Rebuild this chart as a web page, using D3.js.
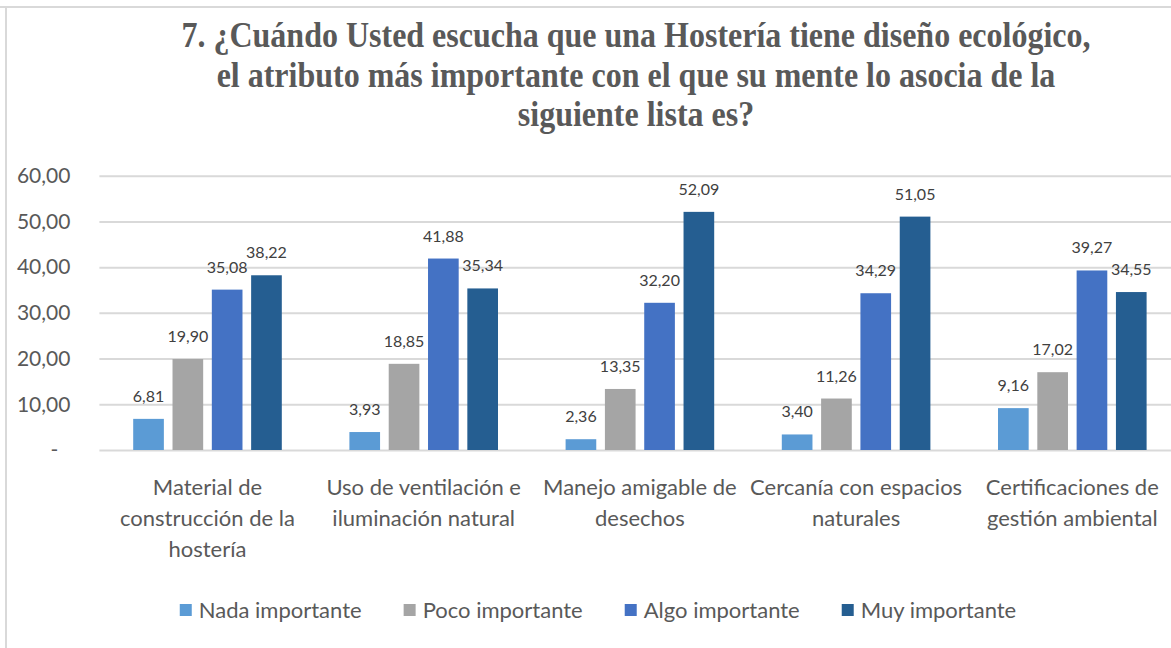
<!DOCTYPE html>
<html>
<head>
<meta charset="utf-8">
<script src="https://cdn.jsdelivr.net/npm/d3@7"></script>
<style>
  body { margin: 0; background: #fff; }
  svg { display: block; }
</style>
</head>
<body>
<div id="chart"></div>
<script>
// data
const titleLines = [
    "7. ¿Cuándo Usted escucha que una Hostería tiene diseño ecológico,",
    "el atributo más importante con el que su mente lo asocia de la",
    "siguiente lista es?"
];
const categories = [
    "Material de construcción de la hostería",
    "Uso de ventilación e iluminación natural",
    "Manejo amigable de desechos",
    "Cercanía con espacios naturales",
    "Certificaciones de gestión ambiental"
];
const categoryLines = [
    ["Material de", "construcción de la", "hostería"],
    ["Uso de ventilación e", "iluminación natural"],
    ["Manejo amigable de", "desechos"],
    ["Cercanía con espacios", "naturales"],
    ["Certificaciones de", "gestión ambiental"]
];
const seriesNames = ["Nada importante", "Poco importante", "Algo importante", "Muy importante"];
const nada = [6.81, 3.93, 2.36, 3.40, 9.16];
const poco = [19.90, 18.85, 13.35, 11.26, 17.02];
const algo = [35.08, 41.88, 32.20, 34.29, 39.27];
const muy = [38.22, 35.34, 52.09, 51.05, 34.55];
const yTicks = [0, 10, 20, 30, 40, 50, 60];
const colors = ["#5b9bd5", "#a5a5a5", "#4472c4", "#255e91"];

const seriesValues = [nada, poco, algo, muy];

const width = 1171;
const height = 648;
const plot = { left: 99.4, right: 1180.4, top: 175.7, bottom: 450 };
const textColor = "#595959";
const sansFont = "Lato, 'Open Sans', sans-serif";

const svg = d3.select("#chart")
    .append("svg")
    .attr("width", width)
    .attr("height", height);

// frame lines (top and left) of the cropped chart
svg.append("line")
    .attr("x1", 0).attr("x2", width)
    .attr("y1", 7).attr("y2", 7)
    .attr("stroke", "#d9d9d9").attr("stroke-width", 2);
svg.append("line")
    .attr("x1", 6).attr("x2", 6)
    .attr("y1", 7).attr("y2", height)
    .attr("stroke", "#d9d9d9").attr("stroke-width", 2);

// title (serif bold, slightly tall like the original)
svg.append("g")
    .selectAll("text")
    .data(titleLines)
    .join("text")
    .attr("transform", (d, i) => `translate(636,${47 + i * 39.5}) scale(1,1.1)`)
    .attr("text-anchor", "middle")
    .attr("font-family", "'Liberation Serif', 'Times New Roman', serif")
    .attr("font-weight", "bold")
    .attr("font-size", 32)
    .attr("fill", textColor)
    .text(d => d);

// scales
const x0 = d3.scaleBand()
    .domain(categories)
    .range([plot.left, plot.right])
    .paddingInner(0)
    .paddingOuter(0);

const groupWidth = 148.6;
const x1 = d3.scaleBand()
    .domain(seriesNames)
    .range([0, groupWidth])
    .paddingInner(0.22)
    .paddingOuter(0);

const y = d3.scaleLinear()
    .domain([0, 60])
    .range([plot.bottom, plot.top]);

const fmt = v => d3.format(".2f")(v).replace(".", ",");

// y axis with gridlines
const yAxis = d3.axisLeft(y)
    .tickValues(yTicks)
    .tickSize(-(plot.right - plot.left))
    .tickPadding(29)
    .tickFormat(d => d === 0 ? "-" : fmt(d));

const yg = svg.append("g")
    .attr("transform", `translate(${plot.left},0)`)
    .call(yAxis);
yg.select(".domain").remove();
yg.selectAll(".tick line")
    .attr("stroke", "#d9d9d9")
    .attr("stroke-width", 2);
yg.selectAll(".tick text")
    .attr("fill", textColor)
    .attr("font-family", sansFont)
    .attr("font-size", 21)
    .attr("dx", d => d === 0 ? -12 : 0);

// bars
const groups = svg.append("g")
    .selectAll("g")
    .data(categories)
    .join("g")
    .attr("transform", c => `translate(${x0(c) + (x0.bandwidth() - groupWidth) / 2},0)`);

const cells = groups.selectAll("g")
    .data((c, ci) => seriesNames.map((s, si) => ({ s: s, si: si, v: seriesValues[si][ci] })))
    .join("g");

cells.append("rect")
    .attr("x", d => x1(d.s))
    .attr("y", d => y(d.v))
    .attr("width", x1.bandwidth())
    .attr("height", d => y(0) - y(d.v))
    .attr("fill", d => colors[d.si]);

cells.append("text")
    .attr("x", d => x1(d.s) + x1.bandwidth() / 2)
    .attr("y", d => y(d.v) - 17)
    .attr("text-anchor", "middle")
    .attr("font-family", sansFont)
    .attr("font-size", 16)
    .attr("fill", "#404040")
    .text(d => fmt(d.v));

// category labels
svg.append("g")
    .selectAll("text")
    .data(categories)
    .join("text")
    .attr("text-anchor", "middle")
    .attr("font-family", sansFont)
    .attr("font-size", 22)
    .attr("fill", textColor)
    .each(function (c, i) {
        d3.select(this).selectAll("tspan")
            .data(categoryLines[i])
            .join("tspan")
            .attr("x", x0(c) + x0.bandwidth() / 2)
            .attr("y", (d, j) => 495 + j * 31)
            .text(d => d);
    });

// legend
const legend = svg.append("g");
const items = legend.selectAll("g")
    .data(seriesNames)
    .join("g");
items.append("rect")
    .attr("width", 12)
    .attr("height", 12)
    .attr("y", 604)
    .attr("fill", (d, i) => colors[i]);
items.append("text")
    .attr("x", 19)
    .attr("y", 618)
    .attr("font-family", sansFont)
    .attr("font-size", 22)
    .attr("fill", textColor)
    .text(d => d);

let offset = 0;
const itemGap = 42;
items.each(function () {
    const w = 19 + d3.select(this).select("text").node().getComputedTextLength();
    d3.select(this).attr("transform", `translate(${offset},0)`);
    offset += w + itemGap;
});
const legendWidth = offset - itemGap;
legend.attr("transform", `translate(${598 - legendWidth / 2},0)`);
</script>
</body>
</html>
